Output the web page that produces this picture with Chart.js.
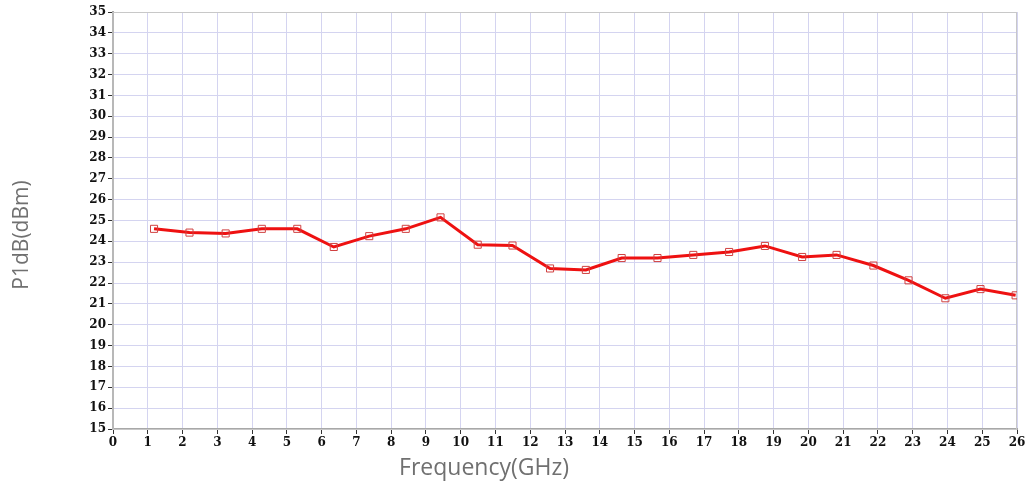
<!DOCTYPE html>
<html>
<head>
<meta charset="utf-8">
<script src="https://cdn.jsdelivr.net/npm/chart.js@4"></script>
<style>
  html, body { margin: 0; padding: 0; background: #fff; }
  #wrap { width: 1032px; height: 488px; }
</style>
</head>
<body>
<div id="wrap"><canvas id="p1dbChart" width="1032" height="488"></canvas></div>
<script>
// frequency points (GHz) and measured P1dB (dBm)
const freqGHz = [1.18, 2.2, 3.24, 4.28, 5.3, 6.35, 7.37, 8.42, 9.42, 10.49, 11.49, 12.57, 13.6,
  14.63, 15.66, 16.69, 17.72, 18.75, 19.82, 20.81, 21.87, 22.88, 23.94, 24.95, 25.96];
const p1dbValues = [24.6, 24.42, 24.38, 24.6, 24.6, 23.73, 24.25, 24.6, 25.15, 23.84, 23.8, 22.7, 22.63,
  23.2, 23.2, 23.35, 23.49, 23.78, 23.25, 23.35, 22.84, 22.13, 21.27, 21.71, 21.41];
const xTitle = 'Frequency(GHz)';
const yTitle = 'P1dB(dBm)';

const tickFont = { family: 'DejaVu Serif', size: 12, weight: 'bold' };

// frame + axis titles drawn by hand so they sit where the original has them
const framePlugin = {
  id: 'frame',
  beforeDatasetsDraw(chart) {
    const { ctx, chartArea: a } = chart;
    ctx.save();
    ctx.strokeStyle = '#c8c8c8';
    ctx.lineWidth = 1;
    ctx.strokeRect(a.left, a.top + 0.5, a.right - a.left - 0.5, a.bottom - a.top);
    ctx.restore();
  },
  afterDraw(chart) {
    const { ctx } = chart;
    ctx.save();
    ctx.fillStyle = '#707070';
    ctx.textAlign = 'center';
    ctx.textBaseline = 'middle';
    ctx.font = '23px "Open Sans"';
    ctx.fillText(xTitle, 484, 468);
    ctx.font = '21px "Open Sans"';
    ctx.translate(22, 235);
    ctx.rotate(-Math.PI / 2);
    ctx.fillText(yTitle, 0, 0);
    ctx.restore();
  }
};

new Chart(document.getElementById('p1dbChart'), {
  type: 'line',
  data: {
    datasets: [{
      data: freqGHz.map((f, i) => ({ x: f, y: p1dbValues[i] })),
      borderColor: '#ee1111',
      borderWidth: 3,
      pointStyle: 'rect',
      pointRadius: 5,
      pointBorderWidth: 1,
      pointBorderColor: '#d04040',
      pointBackgroundColor: 'rgba(255,255,255,0)',
      tension: 0
    }]
  },
  options: {
    responsive: false,
    animation: false,
    layout: { padding: { top: 12, right: 15, left: 0, bottom: 0 } },
    plugins: { legend: { display: false }, tooltip: { enabled: false } },
    scales: {
      x: {
        type: 'linear',
        min: 0, max: 26,
        afterFit(scale) { scale.height = 59; },
        ticks: { stepSize: 1, color: '#111', font: tickFont, padding: 2, maxRotation: 0 },
        grid: { color: '#d4d4f0', tickColor: '#333', tickLength: 5, tickWidth: 1 },
        border: { color: '#a8a8a8', width: 2 }
      },
      y: {
        min: 15, max: 35,
        afterFit(scale) { scale.width = 113; },
        ticks: { stepSize: 1, color: '#111', font: tickFont, padding: 2 },
        grid: { color: '#d4d4f0', tickColor: '#333', tickLength: 5, tickWidth: 1 },
        border: { color: '#a8a8a8', width: 2 }
      }
    }
  },
  plugins: [framePlugin]
});
</script>
</body>
</html>
